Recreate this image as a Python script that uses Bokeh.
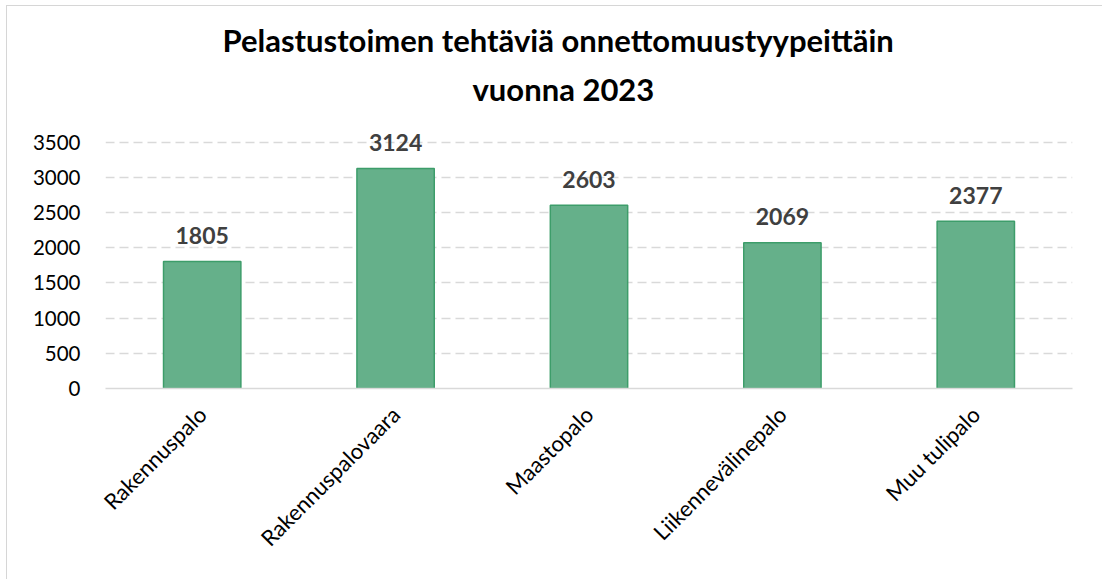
import math
from bokeh.plotting import figure
from bokeh.models import ColumnDataSource, Range1d, FixedTicker, Title
from bokeh.core.properties import value
from bokeh.embed import file_html
from bokeh.resources import INLINE

categories = ["Rakennuspalo", "Rakennuspalovaara", "Maastopalo", "Liikennevälinepalo", "Muu tulipalo"]
counts = [1805, 3124, 2603, 2069, 2377]
y_ticks = [0, 500, 1000, 1500, 2000, 2500, 3000, 3500]
title_lines = ["Pelastustoimen tehtäviä onnettomuustyypeittäin", "vuonna 2023"]

FONT = "Lato"

source = ColumnDataSource(dict(cat=categories, val=counts, lab=[str(v) for v in counts]))

p = figure(
    x_range=categories,
    y_range=Range1d(0, 3750),
    width=1096, height=574,
    output_backend="svg", toolbar_location=None,
    min_border_left=98, min_border_right=31, min_border_top=118, min_border_bottom=192,
)
p.styles = {"margin-left": "6px", "margin-top": "5px",
            "border-left": "1px solid #d6d6d6", "border-top": "1px solid #d6d6d6"}
p.outline_line_color = None
p.background_fill_color = "white"
p.border_fill_color = "white"

p.vbar(x="cat", top="val", width=0.4, source=source,
       fill_color="#65b08a", line_color="#3d9d6a", line_width=1.5)

p.text(x="cat", y="val", text="lab", source=source,
       text_font=value(FONT), text_font_style="bold", text_font_size="23px",
       text_color="#404040", text_align="center", text_baseline="alphabetic",
       y_offset=-26)

p.yaxis.ticker = FixedTicker(ticks=y_ticks)
p.yaxis.axis_line_color = None
p.yaxis.major_tick_line_color = None
p.yaxis.minor_tick_line_color = None
p.yaxis.major_label_text_font = FONT
p.yaxis.major_label_text_font_size = "20.5px"
p.yaxis.major_label_text_color = "#000000"
p.yaxis.major_label_standoff = 19

p.xaxis.axis_line_color = "#d9d9d9"
p.xaxis.axis_line_width = 1.5
p.xaxis.major_tick_line_color = None
p.xaxis.minor_tick_line_color = None
p.xaxis.major_label_orientation = math.pi / 4
p.xaxis.major_label_text_font = FONT
p.xaxis.major_label_text_font_size = "22px"
p.xaxis.major_label_text_color = "#000000"
p.xaxis.major_label_standoff = 16

p.xgrid.grid_line_color = None
p.ygrid.grid_line_color = "#d9d9d9"
p.ygrid.grid_line_width = 1.5
p.ygrid.grid_line_dash = "9 5"
p.x_range.range_padding = 0.0

# second line first (closest to the plot), then first line above it
offsets = [117, 367]
standoffs = [-17, 34]
for i in (1, 0):
    p.add_layout(Title(text=title_lines[i], align="left", offset=offsets[i],
                       standoff=standoffs[i],
                       text_font=FONT, text_font_style="bold",
                       text_font_size="31px", text_color="#000000"), "above")

open("out.html", "w").write(file_html(p, INLINE))
